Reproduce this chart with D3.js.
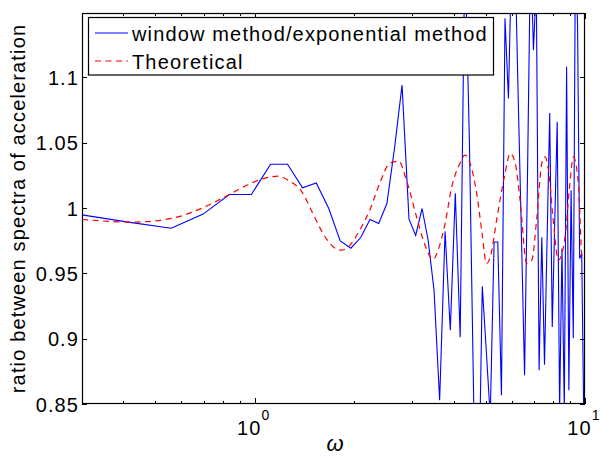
<!DOCTYPE html>
<html>
<head>
<meta charset="utf-8">
<script src="https://cdn.jsdelivr.net/npm/d3@7"></script>
<style>
  html, body { margin: 0; padding: 0; background: #fff; }
  svg { display: block; }
  text { font-family: "Liberation Sans", Arial, Helvetica, sans-serif; fill: #000; }
</style>
</head>
<body>
<svg id="chart" width="600" height="457"></svg>
<script>
// ---- data ----
const measOmega = [0.279, 0.419, 0.559, 0.698, 0.838, 0.977, 1.117, 1.257, 1.396, 1.536,
  1.676, 1.815, 1.955, 2.094, 2.234, 2.374, 2.513, 2.653, 2.793, 2.932,
  3.072, 3.211, 3.351, 3.491, 3.630, 3.770, 3.910, 4.049, 4.189, 4.328,
  4.468, 4.608, 4.747, 4.887, 5.027, 5.166, 5.306, 5.445, 5.585, 5.725,
  5.864, 6.004, 6.144, 6.283, 6.423, 6.562, 6.702, 6.842, 6.981, 7.121,
  7.261, 7.400, 7.540, 7.679, 7.819, 7.959, 8.098, 8.238, 8.378, 8.517,
  8.657, 8.796, 8.936, 9.076, 9.215, 9.355, 9.495, 9.634, 9.774, 9.914];
const measRatio = [0.996, 0.989, 0.9845, 0.9953, 1.0103, 1.0103, 1.0335, 1.0335, 1.0154, 1.0192,
  0.9996, 0.9748, 0.9692, 0.9774, 0.9912, 0.9881, 1.0034, 1.0466, 1.094, 0.9914,
  0.979, 0.9996, 0.9753, 0.9371, 0.8528, 0.9822, 0.9064, 1.0113, 0.9011, 1.20,
  1.05, 0.845, 0.75, 0.9401, 0.89, 0.84, 0.974, 0.974, 0.8567, 1.1451,
  1.0838, 1.20, 1.19, 1.08, 0.977, 0.872, 1.03, 1.20, 1.1208, 1.17,
  0.8758, 0.9776, 0.88, 0.977, 1.0726, 0.909, 0.989, 1.066, 0.845, 0.969,
  0.845, 1.108, 0.8605, 1.0136, 0.9003, 1.20, 1.14, 0.9613, 0.965, 0.84];

const theoOmega = [0.30, 0.43, 0.56, 0.70, 0.83, 0.98, 1.10, 1.18, 1.26, 1.39,
  1.50, 1.61, 1.73, 1.83, 1.92, 2.08, 2.23, 2.39, 2.56, 2.73,
  2.88, 3.09, 3.24, 3.47, 3.59, 3.77, 3.95, 4.18, 4.33, 4.49,
  4.70, 4.88, 5.03, 5.17, 5.42, 5.70, 5.94, 6.15, 6.36, 6.66,
  6.90, 7.15, 7.40, 7.57, 7.75, 8.03, 8.30, 8.70, 9.00, 9.22,
  9.55, 9.80, 10.0];
const theoRatio = [0.9912, 0.9892, 0.9920, 1.0004, 1.0098, 1.0192, 1.0235, 1.0243, 1.0213, 1.0123,
  0.9958, 0.9805, 0.9702, 0.9677, 0.9702, 0.983, 0.9983, 1.0188, 1.0341, 1.0358,
  1.0213, 0.9932, 0.9753, 0.9606, 0.9677, 0.9881, 1.0162, 1.0341, 1.0404, 1.0341,
  1.0111, 0.9805, 0.9575, 0.9626, 0.9932, 1.0238, 1.0417, 1.0341, 1.006, 0.9575,
  0.960, 0.9932, 1.0341, 1.0391, 1.029, 0.9881, 0.960, 0.9779, 1.0188, 1.0391,
  1.0188, 0.9635, 0.966];

const yTicks = [0.85, 0.9, 0.95, 1, 1.05, 1.1];
const yTickLabels = ["0.85", "0.9", "0.95", "1", "1.05", "1.1"];
const xMajorTicks = [1, 10];
const xMajorExp = ["0", "1"];
const xMinorTicks = [0.4, 0.5, 0.6, 0.7, 0.8, 0.9, 2, 3, 4, 5, 6, 7, 8, 9];
const legendLabels = ["window method/exponential method", "Theoretical"];
const yLabel = "ratio between spectra of acceleration";
const xLabel = "\u03C9";

// ---- layout ----
const L = 82, R = 585, T = 13, B = 404;
const svg = d3.select("#chart");
const x = d3.scaleLog().domain([0.3, 10]).range([L, R]);
const y = d3.scaleLinear().domain([0.85, 1.1492]).range([B, T]);

svg.append("defs").append("clipPath").attr("id", "clip")
  .append("rect").attr("x", L).attr("y", T).attr("width", R - L).attr("height", B - T);

const plot = svg.append("g").attr("clip-path", "url(#clip)");

const measData = measOmega.map((w, i) => [w, measRatio[i]]);
const theoData = theoOmega.map((w, i) => [w, theoRatio[i]]);

plot.append("path")
  .datum(measData)
  .attr("fill", "none")
  .attr("stroke", "#0000ff")
  .attr("stroke-width", 1.1)
  .attr("stroke-linejoin", "miter")
  .attr("d", d3.line().x(d => x(d[0])).y(d => y(d[1])));

plot.append("path")
  .datum(theoData)
  .attr("fill", "none")
  .attr("stroke", "#ff0000")
  .attr("stroke-width", 1.2)
  .attr("stroke-dasharray", "6,4.5")
  .attr("d", d3.line().curve(d3.curveMonotoneX).x(d => x(d[0])).y(d => y(d[1])));

// ---- axes (ticks inside, box) ----
const yAxisL = d3.axisLeft(y).tickValues(yTicks).tickSize(-5).tickFormat((d, i) => yTickLabels[i]).tickPadding(8);
const gyl = svg.append("g").attr("transform", `translate(${L},0)`).call(yAxisL);
const yAxisR = d3.axisRight(y).tickValues(yTicks).tickSize(-5).tickFormat("");
const gyr = svg.append("g").attr("transform", `translate(${R},0)`).call(yAxisR);

const xAxisB = d3.axisBottom(x).tickValues(xMajorTicks).tickSize(-6).tickFormat("");
const gxb = svg.append("g").attr("transform", `translate(0,${B})`).call(xAxisB);
const xAxisBm = d3.axisBottom(x).tickValues(xMinorTicks).tickSize(-3).tickFormat("");
const gxbm = svg.append("g").attr("transform", `translate(0,${B})`).call(xAxisBm);
const xAxisT = d3.axisTop(x).tickValues(xMajorTicks).tickSize(-6).tickFormat("");
const gxt = svg.append("g").attr("transform", `translate(0,${T})`).call(xAxisT);
const xAxisTm = d3.axisTop(x).tickValues(xMinorTicks).tickSize(-3).tickFormat("");
const gxtm = svg.append("g").attr("transform", `translate(0,${T})`).call(xAxisTm);

[gyl, gyr, gxb, gxbm, gxt, gxtm].forEach(g => {
  g.select(".domain").remove();
  g.selectAll(".tick line").attr("stroke", "#000").attr("stroke-width", 1).attr("shape-rendering", "crispEdges");
});

gyl.selectAll(".tick text")
  .attr("font-family", "Liberation Sans, Arial, sans-serif")
  .attr("font-size", 20)
  .attr("letter-spacing", "1.1px")
  .attr("fill", "#000")
  .attr("x", -3)
  .attr("dy", "0.36em");

// x major tick labels with superscript
const xl = svg.append("g");
xMajorTicks.forEach((v, i) => {
  const t = xl.append("text")
    .attr("x", x(v) - 1)
    .attr("y", 434.5)
    .attr("text-anchor", "middle")
    .attr("font-size", 20)
    .attr("letter-spacing", "1.1px");
  t.append("tspan").text("10");
  t.append("tspan").attr("dy", -15).attr("font-size", 14).text(xMajorExp[i]);
});

// box
svg.append("rect")
  .attr("x", L + 0.5).attr("y", T + 0.5)
  .attr("width", R - L - 1).attr("height", B - T - 1)
  .attr("fill", "none").attr("stroke", "#000").attr("stroke-width", 1.2);

// axis labels
svg.append("text")
  .attr("x", 335).attr("y", 451)
  .attr("text-anchor", "middle")
  .attr("font-family", "Liberation Serif, DejaVu Serif, serif")
  .attr("font-style", "italic")
  .attr("font-size", 22)
  .text(xLabel);

svg.append("text")
  .attr("transform", `translate(25,${(T + B) / 2}) rotate(-90)`)
  .attr("text-anchor", "middle")
  .attr("font-size", 20)
  .attr("letter-spacing", "1.15px")
  .text(yLabel);

// ---- legend ----
const lg = svg.append("g");
lg.append("rect")
  .attr("x", 88.5).attr("y", 17.5).attr("width", 405).attr("height", 57.5)
  .attr("fill", "#fff").attr("stroke", "#000").attr("stroke-width", 1.2);
const legY = [33, 61];
const legStyles = [
  {stroke: "#0000ff", dash: null},
  {stroke: "#ff0000", dash: "6,4.5"}
];
legendLabels.forEach((lab, i) => {
  lg.append("line")
    .attr("x1", 95).attr("x2", 128).attr("y1", legY[i]).attr("y2", legY[i])
    .attr("stroke", legStyles[i].stroke).attr("stroke-width", 1.2)
    .attr("stroke-dasharray", legStyles[i].dash);
  lg.append("text")
    .attr("x", 132).attr("y", legY[i] + 7.5)
    .attr("font-size", 20)
    .attr("letter-spacing", "1.15px")
    .text(lab);
});
</script>
</body>
</html>
